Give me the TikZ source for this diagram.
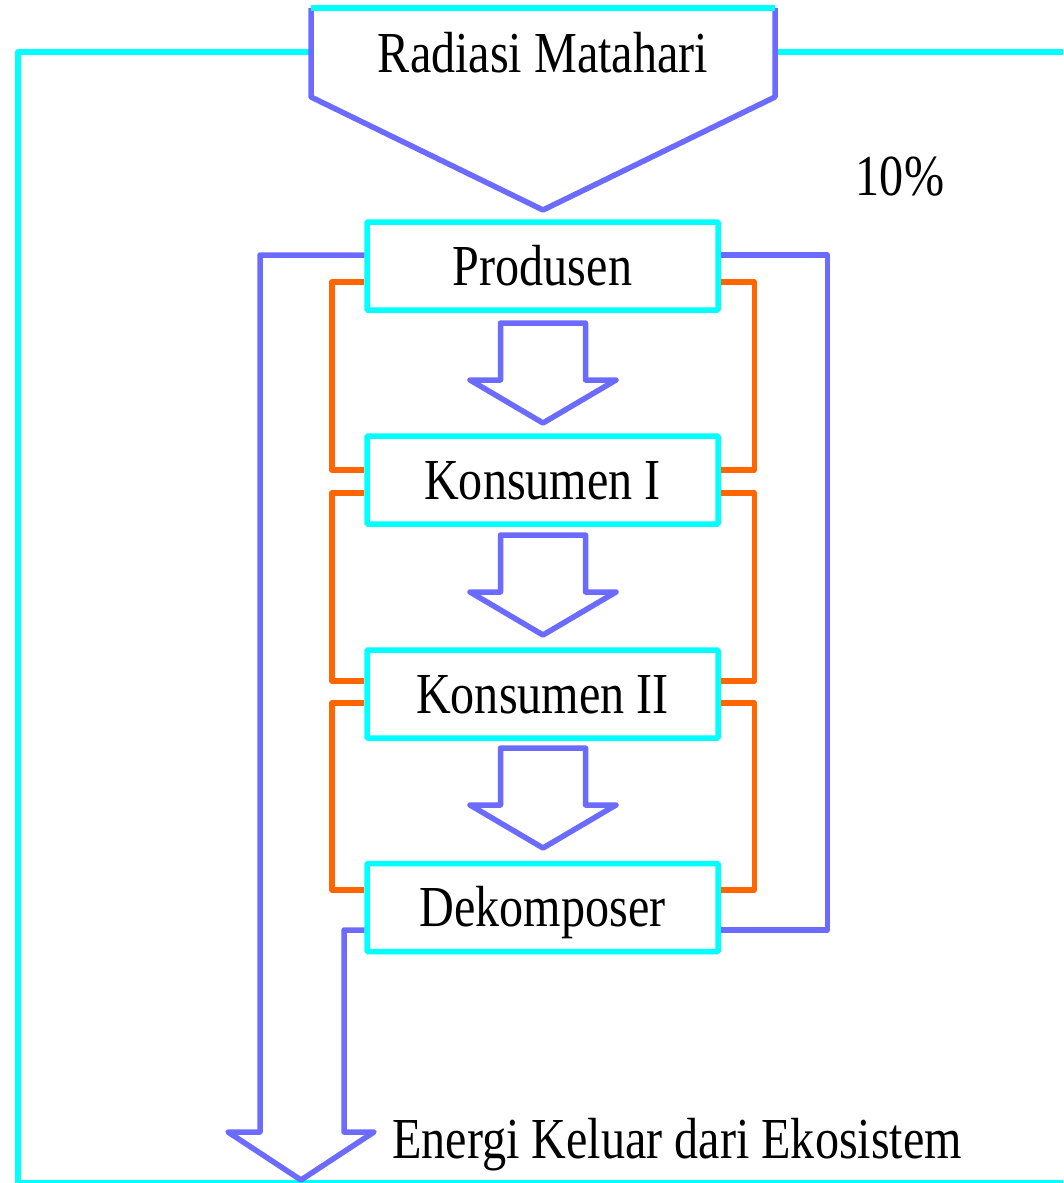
\documentclass[tikz,border=0pt]{standalone}
\usepackage{fontspec}
\setmainfont{Liberation Serif}[FakeStretch=0.83]
\definecolor{frameCyan}{HTML}{00FFFF}
\definecolor{flowBlue}{HTML}{6B6BFF}
\definecolor{lossOrange}{HTML}{FF6600}

\tikzset{
  bigtext/.style={font=\fontsize{58}{64}\selectfont, inner sep=0pt},
  levelbox/.style={draw=frameCyan, fill=white, line width=5.5pt, rounded corners=1pt,
    minimum width=351pt, minimum height=88pt, inner sep=0pt,
    text height=38pt, text depth=0pt, bigtext},
  flowline/.style={draw=flowBlue, line width=5.5pt, line join=round},
  lossline/.style={draw=lossOrange, line width=5.5pt, line join=round},
  cyanline/.style={draw=frameCyan, line width=5.5pt, line join=round},
  blockdown/.pic={
    \draw[flowline, fill=white] (-42.5,-100) -- (42.5,-100) -- (42.5,-43)
      -- (73,-43) -- (0,0) -- (-73,-43) -- (-42.5,-43) -- cycle;
  }
}

\begin{document}
\begin{tikzpicture}[x=1pt, y=-1pt]
  \useasboundingbox (0,0) rectangle (1063,1183);
  \clip (0,0) rectangle (1063,1183);

  % outer frame of the ecosystem
  \draw[cyanline] (311,52) -- (18,52) -- (18,1183) -- (1090,1183) -- (1090,52) -- (775,52);

  % incoming solar radiation
  \coordinate (sunTL) at (311,8);
  \coordinate (sunTR) at (775,8);
  \coordinate (sunBL) at (311,97);
  \coordinate (sunBR) at (775,97);
  \coordinate (sunTip) at (543,210);
  \fill[white] (sunTL) -- (sunBL) -- (sunTip) -- (sunBR) -- (sunTR) -- cycle;
  \draw[flowline] (sunTL) -- (sunBL) -- (sunTip) -- (sunBR) -- (sunTR);
  \draw[cyanline] (sunTL) -- (sunTR);
  \node[bigtext, anchor=base] (rad) at (543,72) {Radiasi Matahari};

  \node[bigtext, anchor=base] (pct) at (900,195) {10\%};

  % trophic levels
  \node[levelbox] (prod) at (542.5,266) {Produsen};
  \node[levelbox] (kon1) at (542.5,480) {Konsumen I};
  \node[levelbox] (kon2) at (542.5,694) {Konsumen II};
  \node[levelbox] (deko) at (542.5,907.5) {Dekomposer};

  % energy transfer between levels
  \pic at (543,423) {blockdown};
  \pic at (543,635) {blockdown};
  \pic at (543,848) {blockdown};

  % heat loss loops between neighbouring levels
  \draw[lossline] ([yshift=-16pt]prod.west) -- ++(-32.5,0) |- ([yshift=10pt]kon1.west);
  \draw[lossline] ([yshift=-13pt]kon1.west) -- ++(-32.5,0) |- ([yshift=13pt]kon2.west);
  \draw[lossline] ([yshift=-9pt]kon2.west) -- ++(-32.5,0) |- ([yshift=17.5pt]deko.west);
  \draw[lossline] ([yshift=-16pt]prod.east) -- ++(33.5,0) |- ([yshift=10pt]kon1.east);
  \draw[lossline] ([yshift=-13pt]kon1.east) -- ++(33.5,0) |- ([yshift=13pt]kon2.east);
  \draw[lossline] ([yshift=-9pt]kon2.east) -- ++(33.5,0) |- ([yshift=17.5pt]deko.east);

  % producer to decomposer, right side
  \draw[flowline] ([yshift=11pt]prod.east) -- ++(106.5,0) |- ([yshift=-22.5pt]deko.east);

  % energy leaving the ecosystem
  \coordinate (outL) at (260,1132);
  \coordinate (outR) at (344,1132);
  \coordinate (outTip) at (301,1180);
  \draw[flowline] ([yshift=11pt]prod.west) -| (outL) -- (228,1132) -- (outTip)
     -- (374,1132) -- (outR) |- ([yshift=-22.5pt]deko.west);
  \node[bigtext, anchor=base west] (out) at (392,1158) {Energi Keluar dari Ekosistem};
\end{tikzpicture}
\end{document}
